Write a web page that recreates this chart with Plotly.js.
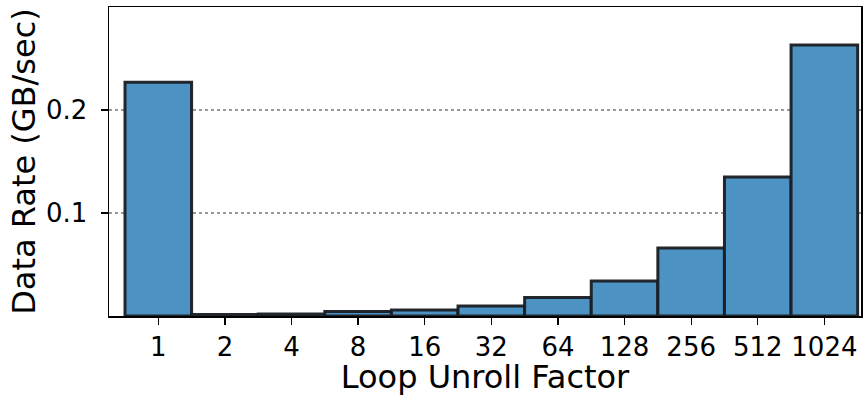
<!DOCTYPE html>
<html>
<head>
<meta charset="utf-8">
<script src="https://cdn.plot.ly/plotly-3.0.1.min.js"></script>
<style>html,body{margin:0;padding:0;background:#fff}#chart{width:863px;height:396px}</style>
</head>
<body>
<div id="chart"></div>
<script>
const categories = ["1","2","4","8","16","32","64","128","256","512","1024"];
const dataRate = [0.227, 0.0015, 0.002, 0.0044, 0.0058, 0.0097, 0.018, 0.034, 0.066, 0.135, 0.263];
const yTicks = [0.1, 0.2];
const xTitle = "Loop Unroll Factor";
const yTitle = "Data Rate (GB/sec)";

const tickFont = {family: "DejaVu Sans", size: 26, color: "#000"};
const titleFont = {family: "DejaVu Sans", size: 32, color: "#000"};
Plotly.newPlot("chart", [{
  type: "bar",
  x: categories,
  y: dataRate,
  width: 1,
  marker: {color: "#4c92c3", line: {color: "rgba(25,30,35,0.95)", width: 3}},
  hoverinfo: "x+y"
}], {
  width: 863, height: 396,
  margin: {l: 109, r: 2, t: 7, b: 80},
  paper_bgcolor: "#fff", plot_bgcolor: "#fff",
  font: tickFont,
  bargap: 0,
  showlegend: false,
  xaxis: {
    type: "category",
    range: [-0.74, 10.55],
    showline: true, mirror: true, linecolor: "#000", linewidth: 1.5,
    ticks: "outside", ticklen: 7, tickwidth: 1.3, tickcolor: "#000",
    showgrid: false, zeroline: false,
    tickfont: tickFont,
    title: {text: xTitle, font: titleFont, standoff: 4},
    automargin: false
  },
  yaxis: {
    range: [0, 0.3],
    tickvals: yTicks,
    ticktext: yTicks.map(v => v.toFixed(1)),
    showline: true, mirror: true, linecolor: "#000", linewidth: 1.5,
    ticks: "outside", ticklen: 7, tickwidth: 1.3, tickcolor: "#000",
    ticklabelstandoff: 8,
    showgrid: true, gridcolor: "#999", griddash: "dot", gridwidth: 1.3,
    zeroline: false,
    tickfont: tickFont,
    title: {text: yTitle, font: titleFont, standoff: 0},
    automargin: false
  }
}, {displayModeBar: false, staticPlot: true});
</script>
</body>
</html>
